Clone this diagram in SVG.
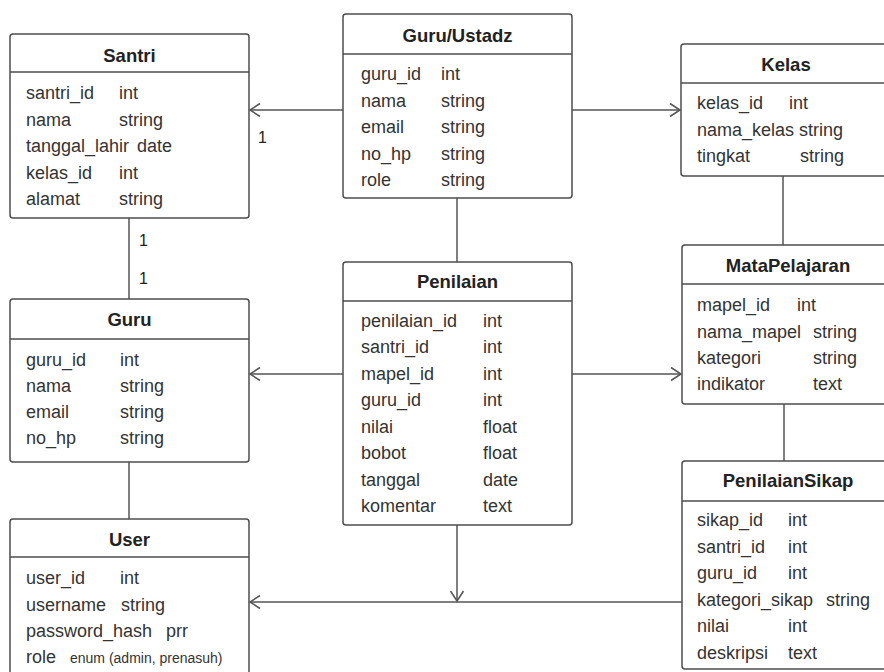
<svg xmlns="http://www.w3.org/2000/svg" width="884" height="672" viewBox="0 0 884 672">
<style>
.box{fill:#fff;stroke:#4d4d4d;stroke-width:1.5}
.hl{stroke:#4d4d4d;stroke-width:1.5}
.title{font-family:"Liberation Sans",Arial,sans-serif;font-size:18.5px;font-weight:bold;fill:#222;text-anchor:middle}
.f{font-family:"Liberation Sans",Arial,sans-serif;font-size:18px;fill:#333}
.sm{font-family:"Liberation Sans",Arial,sans-serif;font-size:14px;fill:#333}
.c{stroke:#555;stroke-width:1.5;fill:none}
.lbl{font-family:"Liberation Sans",Arial,sans-serif;font-size:16px;fill:#222}
</style>
<defs>
<marker id="arr" markerUnits="userSpaceOnUse" markerWidth="14" markerHeight="16" viewBox="0 0 14 16" refX="12" refY="8" orient="auto">
<path d="M2,1.5 L12,8 L2,14.5" fill="none" stroke="#555" stroke-width="1.5"/>
</marker>
</defs>
<rect width="884" height="672" fill="#fff"/>
<g id="connectors">
<line class="c" x1="343" y1="110" x2="250" y2="110" marker-end="url(#arr)"/>
<line class="c" x1="572" y1="110" x2="680" y2="110" marker-end="url(#arr)"/>
<line class="c" x1="129" y1="218" x2="129" y2="299"/>
<line class="c" x1="129" y1="462" x2="129" y2="519"/>
<line class="c" x1="457" y1="198" x2="457" y2="262"/>
<line class="c" x1="343" y1="374" x2="250" y2="374" marker-end="url(#arr)"/>
<line class="c" x1="572" y1="374" x2="681" y2="374" marker-end="url(#arr)"/>
<line class="c" x1="783" y1="176" x2="783" y2="245"/>
<line class="c" x1="784" y1="404" x2="784" y2="461"/>
<line class="c" x1="682" y1="602" x2="250" y2="602" marker-end="url(#arr)"/>
<line class="c" x1="457" y1="525" x2="457" y2="601" marker-end="url(#arr)"/>
<text class="lbl" x="258" y="143">1</text>
<text class="lbl" x="139" y="246">1</text>
<text class="lbl" x="139" y="284">1</text>
</g>
<g id="santri">
<rect class="box" x="10" y="34" width="239" height="184" rx="3"/>
<line class="hl" x1="10" y1="72" x2="249" y2="72"/>
<text class="title" x="129.5" y="61.5">Santri</text>
<text class="f" x="26" y="99">santri_id</text><text class="f" x="119" y="99">int</text>
<text class="f" x="26" y="125.5">nama</text><text class="f" x="119" y="125.5">string</text>
<text class="f" x="26" y="152">tanggal_lahir</text><text class="f" x="137" y="152">date</text>
<text class="f" x="26" y="178.5">kelas_id</text><text class="f" x="119" y="178.5">int</text>
<text class="f" x="26" y="205">alamat</text><text class="f" x="119" y="205">string</text>
</g>
<g id="guru-ustadz">
<rect class="box" x="343" y="14" width="229" height="184" rx="3"/>
<line class="hl" x1="343" y1="54" x2="572" y2="54"/>
<text class="title" x="457.5" y="42">Guru/Ustadz</text>
<text class="f" x="361" y="80">guru_id</text><text class="f" x="441" y="80">int</text>
<text class="f" x="361" y="106.5">nama</text><text class="f" x="441" y="106.5">string</text>
<text class="f" x="361" y="133">email</text><text class="f" x="441" y="133">string</text>
<text class="f" x="361" y="159.5">no_hp</text><text class="f" x="441" y="159.5">string</text>
<text class="f" x="361" y="186">role</text><text class="f" x="441" y="186">string</text>
</g>
<g id="kelas">
<rect class="box" x="681" y="44" width="214" height="132" rx="3"/>
<line class="hl" x1="681" y1="83" x2="895" y2="83"/>
<text class="title" x="786" y="70.5">Kelas</text>
<text class="f" x="697" y="109">kelas_id</text><text class="f" x="789" y="109">int</text>
<text class="f" x="697" y="135.5">nama_kelas</text><text class="f" x="799" y="135.5">string</text>
<text class="f" x="697" y="162">tingkat</text><text class="f" x="800" y="162">string</text>
</g>
<g id="guru">
<rect class="box" x="10" y="299" width="239" height="163" rx="3"/>
<line class="hl" x1="10" y1="339" x2="249" y2="339"/>
<text class="title" x="129.5" y="326">Guru</text>
<text class="f" x="26" y="366">guru_id</text><text class="f" x="120" y="366">int</text>
<text class="f" x="26" y="392">nama</text><text class="f" x="120" y="392">string</text>
<text class="f" x="26" y="418">email</text><text class="f" x="120" y="418">string</text>
<text class="f" x="26" y="444">no_hp</text><text class="f" x="120" y="444">string</text>
</g>
<g id="penilaian">
<rect class="box" x="343" y="262" width="229" height="263" rx="3"/>
<line class="hl" x1="343" y1="301" x2="572" y2="301"/>
<text class="title" x="457.5" y="288">Penilaian</text>
<text class="f" x="361" y="326.5">penilaian_id</text><text class="f" x="483" y="326.5">int</text>
<text class="f" x="361" y="353">santri_id</text><text class="f" x="483" y="353">int</text>
<text class="f" x="361" y="379.5">mapel_id</text><text class="f" x="483" y="379.5">int</text>
<text class="f" x="361" y="406">guru_id</text><text class="f" x="483" y="406">int</text>
<text class="f" x="361" y="432.5">nilai</text><text class="f" x="483" y="432.5">float</text>
<text class="f" x="361" y="459">bobot</text><text class="f" x="483" y="459">float</text>
<text class="f" x="361" y="485.5">tanggal</text><text class="f" x="483" y="485.5">date</text>
<text class="f" x="361" y="512">komentar</text><text class="f" x="483" y="512">text</text>
</g>
<g id="mata-pelajaran">
<rect class="box" x="682" y="245" width="213" height="159" rx="3"/>
<line class="hl" x1="682" y1="284" x2="895" y2="284"/>
<text class="title" x="788" y="271.5">MataPelajaran</text>
<text class="f" x="697" y="311">mapel_id</text><text class="f" x="797" y="311">int</text>
<text class="f" x="697" y="337.5">nama_mapel</text><text class="f" x="813" y="337.5">string</text>
<text class="f" x="697" y="364">kategori</text><text class="f" x="813" y="364">string</text>
<text class="f" x="697" y="390">indikator</text><text class="f" x="813" y="390">text</text>
</g>
<g id="penilaian-sikap">
<rect class="box" x="682" y="461" width="213" height="208" rx="3"/>
<line class="hl" x1="682" y1="501" x2="895" y2="501"/>
<text class="title" x="788" y="486.5">PenilaianSikap</text>
<text class="f" x="697" y="526">sikap_id</text><text class="f" x="788" y="526">int</text>
<text class="f" x="697" y="552.5">santri_id</text><text class="f" x="788" y="552.5">int</text>
<text class="f" x="697" y="579">guru_id</text><text class="f" x="788" y="579">int</text>
<text class="f" x="697" y="605.5">kategori_sikap</text><text class="f" x="826" y="605.5">string</text>
<text class="f" x="697" y="632">nilai</text><text class="f" x="788" y="632">int</text>
<text class="f" x="697" y="658.5">deskripsi</text><text class="f" x="788" y="658.5">text</text>
</g>
<g id="user">
<rect class="box" x="10" y="519" width="239" height="175" rx="3"/>
<line class="hl" x1="10" y1="557" x2="249" y2="557"/>
<text class="title" x="129.5" y="545.5">User</text>
<text class="f" x="26" y="584">user_id</text><text class="f" x="120" y="584">int</text>
<text class="f" x="26" y="610.5">username</text><text class="f" x="121" y="610.5">string</text>
<text class="f" x="26" y="637">password_hash</text><text class="f" x="166" y="637">prr</text>
<text class="f" x="26" y="663">role</text><text class="sm" x="70" y="663">enum (admin, prenasuh)</text>
</g>
</svg>
